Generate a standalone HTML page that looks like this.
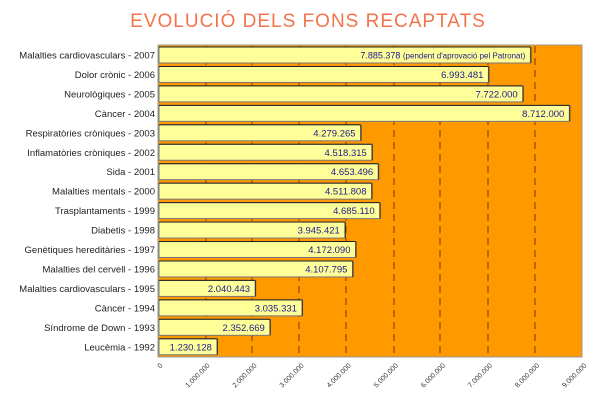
<!DOCTYPE html><html><head><style>body{margin:0;background:#fff}</style></head><body>
<svg width="616" height="400" xmlns="http://www.w3.org/2000/svg" font-family="Liberation Sans, sans-serif">
<text x="308" y="27" text-anchor="middle" font-size="19" fill="#f4734a" letter-spacing="1">EVOLUCIÓ DELS FONS RECAPTATS</text>
<rect x="158" y="45" width="424" height="312" fill="#ff9900" stroke="#999" stroke-width="1"/>
<g stroke="#7a3a00" stroke-width="1" stroke-dasharray="7,5">
<line x1="206" y1="46" x2="206" y2="357"/><line x1="252" y1="46" x2="252" y2="357"/><line x1="299" y1="46" x2="299" y2="357"/><line x1="346" y1="46" x2="346" y2="357"/><line x1="394" y1="46" x2="394" y2="357"/><line x1="440" y1="46" x2="440" y2="357"/><line x1="488" y1="46" x2="488" y2="357"/><line x1="535" y1="46" x2="535" y2="357"/>
</g>
<line x1="158" y1="357" x2="582" y2="357" stroke="#999"/>
<g id="bars" font-size="10" fill="#222"></g>
<g font-size="7" fill="#333" id="ticks"></g>
</svg>
<script>
var d=[["Malalties cardiovasculars - 2007",7885378,"7.885.378  (pendent d'aprovació pel Patronat)"],["Dolor crònic - 2006",6993481,"6.993.481"],["Neurològiques - 2005",7722000,"7.722.000"],["Càncer - 2004",8712000,"8.712.000"],["Respiratòries cròniques - 2003",4279265,"4.279.265"],["Inflamatòries cròniques - 2002",4518315,"4.518.315"],["Sida - 2001",4653496,"4.653.496"],["Malalties mentals - 2000",4511808,"4.511.808"],["Trasplantaments - 1999",4685110,"4.685.110"],["Diabetis - 1998",3945421,"3.945.421"],["Genètiques hereditàries - 1997",4172090,"4.172.090"],["Malalties del cervell - 1996",4107795,"4.107.795"],["Malalties cardiovasculars - 1995",2040443,"2.040.443"],["Càncer - 1994",3035331,"3.035.331"],["Síndrome de Down - 1993",2352669,"2.352.669"],["Leucèmia - 1992",1230128,"1.230.128"]];
var s="";
d.forEach(function(r,i){var y=47+i*19.45,w=r[1]/1e6*47.1;
s+='<rect x="159" y="'+y+'" width="'+w+'" height="16" fill="#ffff99" stroke="#777"/>';
s+='<line x1="159" y1="'+y+'" x2="'+(159+w)+'" y2="'+y+'" stroke="#222" stroke-width="1"/>';
s+='<line x1="'+(159+w+0.5)+'" y1="'+y+'" x2="'+(159+w+0.5)+'" y2="'+(y+16)+'" stroke="#333" stroke-width="1"/>';
s+='<text x="155" y="'+(y+11.5)+'" text-anchor="end" font-size="9.5">'+r[0]+'</text>';
s+='<text x="'+(159+w-5)+'" y="'+(y+11.5)+'" text-anchor="end" fill="#1a1a8c" font-size="'+(i==0?9:9.5)+'">'+(i==0?'7.885.378  <tspan font-size="8">(pendent d\'aprovació pel Patronat)</tspan>':r[2])+'</text>';});
document.getElementById('bars').innerHTML=s;
var t="";for(var k=0;k<=9;k++){var x=159+k*47.1;var lab=k==0?"0":k+".000.000";t+='<text x="'+(x+4)+'" y="366" text-anchor="end" transform="rotate(-45 '+(x+4)+' 366)">'+lab+'</text>';}
document.getElementById('ticks').innerHTML=t;
</script>
</body></html>
